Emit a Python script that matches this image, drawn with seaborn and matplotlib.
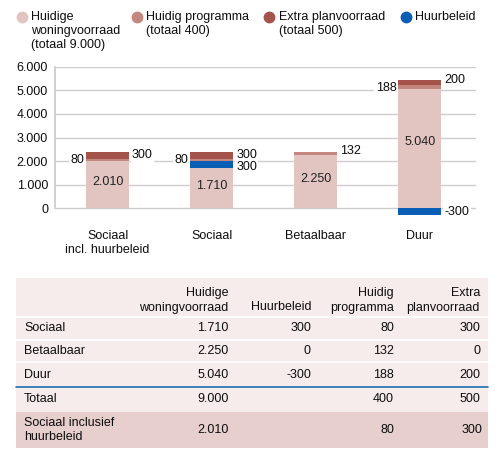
import numpy as np
import pandas as pd
import matplotlib
matplotlib.use("Agg")
import matplotlib.pyplot as plt
from matplotlib.lines import Line2D
from matplotlib.patches import Rectangle
import seaborn as sns

# ---- data ----
categories = ["Sociaal\nincl. huurbeleid", "Sociaal", "Betaalbaar", "Duur"]
huidige_voorraad = [2010, 1710, 2250, 5040]
huurbeleid = [0, 300, 0, -300]
huidig_programma = [80, 80, 132, 188]
extra_planvoorraad = [300, 300, 0, 200]

legend_labels = ["Huidige\nwoningvoorraad\n(totaal 9.000)", "Huidig programma\n(totaal 400)",
                 "Extra planvoorraad\n(totaal 500)", "Huurbeleid"]
y_ticks = [0, 1000, 2000, 3000, 4000, 5000, 6000]

table_header = ["", "Huidige\nwoningvoorraad", "Huurbeleid", "Huidig\nprogramma", "Extra\nplanvoorraad"]
table_rows = ["Sociaal", "Betaalbaar", "Duur", "Totaal", "Sociaal inclusief\nhuurbeleid"]
table_voorraad = ["1.710", "2.250", "5.040", "9.000", "2.010"]
table_huur = ["300", "0", "-300", "", ""]
table_programma = ["80", "132", "188", "400", "80"]
table_extra = ["300", "0", "200", "500", "300"]

# ---- styling ----
C_LIGHT = "#e2c5c1"
C_MED = "#c4877f"
C_DARK = "#a5544c"
C_BLUE = "#0a5fb4"
TXT = "#0d0d0d"
FONT = "Liberation Sans"
FS = 9

sns.set_theme(style="white")
plt.rcParams["font.family"] = [FONT, "DejaVu Sans"]
plt.rcParams["font.size"] = FS

W, H = 500, 458
fig = plt.figure(figsize=(W / 100, H / 100), dpi=100)

def fx(px):
    return px / W

def fy(py):
    return 1 - py / H

# chart axes: x from 55 to 476, y from 66.7 (6000) to bottom
ymin, ymax = -330, 6000
top_px, zero_px = 66.7, 208.3
ppu = (zero_px - top_px) / ymax
bot_px = zero_px - ymin * ppu
ax = fig.add_axes([fx(55), fy(bot_px), fx(476 - 55), (bot_px - top_px) / H])

v = np.array(huidige_voorraad, dtype=float)
hb = np.array(huurbeleid, dtype=float)
hp = np.array(huidig_programma, dtype=float)
ep = np.array(extra_planvoorraad, dtype=float)
pos_hb = np.clip(hb, 0, None)
cum_blue = v + pos_hb
cum_med = cum_blue + hp
cum_dark = cum_med + ep
blue_layer = np.where(hb < 0, hb, cum_blue)

df = pd.DataFrame({"cat": categories, "dark": cum_dark, "med": cum_med,
                   "blue": blue_layer, "light": v})
bw = 0.41
for col, colr in [("dark", C_DARK), ("med", C_MED), ("blue", C_BLUE), ("light", C_LIGHT)]:
    sns.barplot(data=df, x="cat", y=col, order=categories, color=colr, width=bw,
                errorbar=None, saturation=1, linewidth=0, ax=ax, zorder=3)

ax.set_xlim(-0.505, 3.54)
ax.set_ylim(ymin, ymax)
ax.set_yticks(y_ticks)
ax.set_yticklabels([f"{t:,}".replace(",", ".") for t in y_ticks], fontsize=FS)
ax.yaxis.grid(True, color="#cccccc", linewidth=1, zorder=0)
ax.set_axisbelow(True)
for s in ["top", "right", "bottom"]:
    ax.spines[s].set_visible(False)
ax.spines["left"].set_color("#cccccc")
ax.spines["left"].set_bounds(0, 6000)
ax.tick_params(axis="y", length=0, pad=5)
ax.tick_params(axis="x", length=0, pad=10)
ax.set_xlabel("")
ax.set_ylabel("")
ax.set_xticks(range(len(categories)))
ax.set_xticklabels(categories, fontsize=FS, linespacing=1.2)
for lab in ax.get_yticklabels() + ax.get_xticklabels():
    lab.set_color(TXT)

def fmt(n):
    return f"{int(n):,}".replace(",", ".")

bbox = dict(facecolor="white", edgecolor="none", pad=1.0)
# inner labels
for i, val in enumerate(v):
    ax.text(i, val * 0.56, fmt(val), ha="center", va="center", fontsize=FS, color="#222222", zorder=5)

half = bw / 2
for i in range(len(categories)):
    base = cum_blue[i]
    y = base + hp[i] / 2
    if ep[i] > 0:
        ax.text(i - half - 0.02, y if i != 3 else base + 40, fmt(hp[i]), ha="right", va="center",
                fontsize=FS, bbox=bbox, zorder=4, color=TXT)
    else:
        ax.text(i + half + 0.03, cum_med[i] + 40, fmt(hp[i]), ha="left", va="center",
                fontsize=FS, bbox=bbox, zorder=4, color=TXT)
    if ep[i] > 0:
        ax.text(i + half + 0.03, cum_med[i] + ep[i] / 2 + (0 if i != 3 else 110), fmt(ep[i]),
                ha="left", va="center", fontsize=FS, bbox=bbox, zorder=4, color=TXT)
    if hb[i] > 0:
        ax.text(i + half + 0.03, v[i] + 30, fmt(hb[i]), ha="left", va="center",
                fontsize=FS, bbox=bbox, zorder=4, color=TXT)
    elif hb[i] < 0:
        ax.text(i + half + 0.03, hb[i] / 2 - 20, f"-{fmt(-hb[i])}", ha="left", va="center",
                fontsize=FS, bbox=bbox, zorder=4, color=TXT)

# ---- legend ----
leg_colors = [C_LIGHT, C_MED, C_DARK, C_BLUE]
marker_x = [21.7, 136.7, 269, 406]
text_x = [31, 146, 279, 415]
for lab, col, mx, tx in zip(legend_labels, leg_colors, marker_x, text_x):
    fig.add_artist(Line2D([fx(mx)], [fy(17)], marker="o", markersize=7.5, color=col,
                          linestyle="none", transform=fig.transFigure))
    fig.text(fx(tx), fy(11), lab, ha="left", va="top", fontsize=FS, linespacing=1.2,
             color=TXT)

# ---- table ----
tax = fig.add_axes([0, 0, 1, 1])
tax.set_xlim(0, W)
tax.set_ylim(H, 0)
tax.axis("off")
tx0, tx1 = 16, 488
BG = "#f6eceb"
BG2 = "#e6cfcd"
row_bounds = [(278.3, 317), (317, 339.5), (339.5, 362), (362, 387), (387, 412), (412, 448)]
for k, (a, b) in enumerate(row_bounds):
    tax.add_patch(Rectangle((tx0, a), tx1 - tx0, b - a, facecolor=BG2 if k == 5 else BG,
                            edgecolor="none"))
    if 0 < k < 3:
        tax.plot([tx0, tx1], [b, b], color="white", linewidth=1.2)
tax.plot([tx0, tx1], [387, 387], color="#1f6fae", linewidth=1.2)
tax.plot([tx0, tx1], [317, 317], color="white", linewidth=1.2)

col_right = [228.7, 311, 394, 480]
for j, h in enumerate(table_header[1:]):
    tax.text(col_right[j], 313.5, h, ha="right", va="bottom", fontsize=FS, linespacing=1.3,
             color=TXT)
cols = [table_voorraad, table_huur, table_programma, table_extra]
for k, rname in enumerate(table_rows):
    a, b = row_bounds[k + 1]
    yc = (a + b) / 2
    tax.text(24, yc, rname, ha="left", va="center", fontsize=FS, linespacing=1.2, color=TXT)
    for j, colvals in enumerate(cols):
        xr = col_right[j] + (2 if (k == 4 and j == 3) else 0)
        tax.text(xr, yc, colvals[k], ha="right", va="center", fontsize=FS, color=TXT)

fig.savefig("out.png", dpi=100)
